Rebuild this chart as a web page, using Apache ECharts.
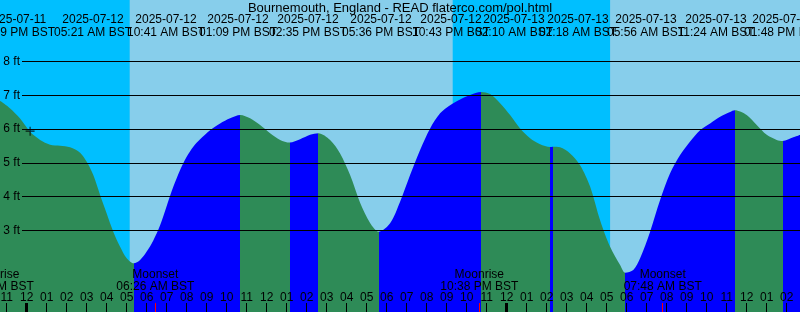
<!DOCTYPE html>
<html>
<head>
<meta charset="utf-8">
<script src="https://cdn.jsdelivr.net/npm/echarts@6/dist/echarts.min.js"></script>
<style>
html,body{margin:0;padding:0;background:#87CEEB;}
#c{width:800px;height:312px;}
</style>
</head>
<body>
<div id="c"></div>
<script>
// ---------- DATA (hours since 2025-07-12 00:00 BST) ----------
const titleText = 'Bournemouth, England - READ flaterco.com/pol.html';

const tideHours = [-1.34, -0.84, -0.34, 0.17, 0.67, 1.17, 1.67, 2.17, 2.67, 3.0, 3.33, 3.67, 4.0, 4.33, 4.67, 5.0,
  5.35, 5.67, 6.0, 6.33, 6.67, 7.0, 7.33, 7.67, 8.0, 8.33, 8.67, 9.17, 9.67, 10.17, 10.68,
  11.17, 11.67, 12.17, 12.67, 13.15, 13.67, 14.17, 14.58, 15.17, 15.67, 16.17, 16.67, 17.17, 17.6,
  18.17, 18.67, 19.17, 19.67, 20.17, 20.67, 21.17, 21.67, 22.17, 22.72, 23.17, 23.67, 24.17, 24.67,
  25.17, 25.67, 26.17, 26.3, 26.67, 27.17, 27.67, 28.17, 28.67, 29.17, 29.67, 29.93, 30.33, 30.67,
  31.17, 31.67, 32.17, 32.67, 33.17, 33.67, 34.17, 34.67, 35.17, 35.4, 36.0, 36.5, 37.0, 37.5, 37.8,
  38.33, 38.67];
const tideFeet = [6.84, 6.62, 6.32, 5.92, 5.68, 5.54, 5.51, 5.46, 5.30, 5.03, 4.64, 4.05, 3.50, 2.96, 2.51, 2.17,
  2.02, 2.12, 2.37, 2.70, 3.15, 3.72, 4.29, 4.79, 5.18, 5.48, 5.70, 5.97, 6.17, 6.32, 6.42,
  6.32, 6.12, 5.88, 5.68, 5.60, 5.70, 5.83, 5.88, 5.68, 5.28, 4.64, 3.82, 3.22, 2.96,
  3.21, 3.85, 4.64, 5.38, 6.02, 6.47, 6.71, 6.88, 7.01, 7.10, 7.04, 6.77, 6.42, 6.02,
  5.73, 5.55, 5.47, 5.48, 5.46, 5.28, 4.93, 4.30, 3.30, 2.51, 1.97, 1.74, 1.82, 2.17,
  2.96, 3.90, 4.69, 5.23, 5.63, 5.97, 6.17, 6.37, 6.51, 6.56, 6.42, 6.12, 5.83, 5.68, 5.65,
  5.76, 5.83];

// high / low tide events
const eventHours = [-1.85, 5.35, 10.68, 13.15, 14.58, 17.6, 22.72, 26.17, 26.3, 29.93, 35.4, 37.8];
const eventTypes = ['high', 'low', 'high', 'low', 'high', 'low', 'high', 'low', 'high', 'low', 'high', 'low'];
const eventDates = ['2025-07-11', '2025-07-12', '2025-07-12', '2025-07-12', '2025-07-12', '2025-07-12',
  '2025-07-12', '2025-07-13', '2025-07-13', '2025-07-13', '2025-07-13', '2025-07-13'];
const eventTimes = ['10:09 PM BST', '05:21 AM BST', '10:41 AM BST', '01:09 PM BST', '02:35 PM BST', '05:36 PM BST',
  '10:43 PM BST', '02:10 AM BST', '02:18 AM BST', '05:56 AM BST', '11:24 AM BST', '01:48 PM BST'];

// moon events
const moonHours = [-1.6, 6.43, 22.63, 31.8];
const moonNames = ['Moonrise', 'Moonset', 'Moonrise', 'Moonset'];
const moonTimes = ['10:24 PM BST', '06:26 AM BST', '10:38 PM BST', '07:48 AM BST'];

// sun
const sunsetHours = [-2.68, 21.3];
const sunriseHours = [5.15, 29.17];

// marker
const markPoint = [[0.17, 5.94]];

// axis ticks
const hourTicks = [-1, 0, 1, 2, 3, 4, 5, 6, 7, 8, 9, 10, 11, 12, 13, 14, 15, 16, 17, 18, 19, 20,
  21, 22, 23, 24, 25, 26, 27, 28, 29, 30, 31, 32, 33, 34, 35, 36, 37, 38];
const midnightTicks = [0, 24];
const feetTicks = [3, 4, 5, 6, 7, 8];

// ---------- LAYOUT ----------
const XMIN = -1.335, XMAX = 38.665, YMIN = 0.578, YMAX = 9.828;
const eventLabelX = [16, 93, 166, 238, 308, 381, 451, 514, 578, 646, 716, 783];
const FONT = '"Liberation Sans", Arial, sans-serif';
const DAY = '#87CEEB', NIGHT = '#00BFFF', FLOOD = '#0000FF', EBB = '#2E8B57';

function hourLabel(v) {
  const h = ((Math.round(v) % 24) + 24) % 24;
  const h12 = h % 12 === 0 ? 12 : h % 12;
  return String(h12).padStart(2, '0');
}

const pieces = [];
for (let i = 0; i < eventHours.length; i++) {
  const a = eventHours[i];
  const b = i + 1 < eventHours.length ? eventHours[i + 1] : 1000;
  pieces.push({ gte: a, lt: b, color: eventTypes[i] === 'low' ? FLOOD : EBB });
}
pieces.push({ gte: -1000, lt: eventHours[0], color: eventTypes[0] === 'high' ? FLOOD : EBB });

const nights = sunsetHours.map((s, i) => [{ xAxis: s }, { xAxis: sunriseHours[i] }]);

const chart = echarts.init(document.getElementById('c'), null, { renderer: 'canvas' });

const baseX = { type: 'value', min: XMIN, max: XMAX, gridIndex: 0, position: 'bottom',
  axisLine: { show: false, onZero: false }, splitLine: { show: false } };

const option = {
  animation: false,
  backgroundColor: DAY,
  grid: [
    { left: 0, right: 0, top: 0, bottom: 0, outerBoundsMode: 'none', containLabel: false },
    { left: 22, right: 0, top: 0, bottom: 0, outerBoundsMode: 'none', containLabel: false }
  ],
  xAxis: [
    Object.assign({}, baseX, {
      z: 5,
      axisTick: { show: true, inside: true, length: 9, lineStyle: { color: '#000', width: 1 }, customValues: hourTicks },
      axisLabel: { show: true, inside: true, margin: 8, color: '#000', fontSize: 12, fontFamily: FONT,
        customValues: hourTicks, formatter: hourLabel }
    }),
    Object.assign({}, baseX, {
      z: 6,
      axisTick: { show: true, inside: true, length: 9, lineStyle: { color: '#000', width: 3 }, customValues: midnightTicks },
      axisLabel: { show: false }
    }),
    Object.assign({}, baseX, {
      z: 6,
      axisTick: { show: true, inside: true, length: 9, lineStyle: { color: '#ff0000', width: 1 }, customValues: moonHours },
      axisLabel: { show: false }
    }),
    { type: 'value', min: XMIN, max: XMAX, gridIndex: 1, show: false }
  ],
  yAxis: [
    { type: 'value', min: YMIN, max: YMAX, gridIndex: 0, show: false, splitLine: { show: false } },
    { type: 'value', min: YMIN, max: YMAX, gridIndex: 1, position: 'left', z: 5,
      axisLine: { show: false },
      axisTick: { show: false, customValues: feetTicks },
      axisLabel: { show: true, margin: 2, color: '#000', fontSize: 12, fontFamily: FONT,
        customValues: feetTicks, formatter: '{value} ft' },
      splitLine: { show: true, lineStyle: { color: '#000', width: 1 } } }
  ],
  visualMap: [{
    type: 'piecewise', show: false, dimension: 0, seriesIndex: 1, pieces: pieces
  }],
  series: [
    { type: 'line', xAxisIndex: 0, yAxisIndex: 0, data: [], silent: true, z: 1,
      markArea: { silent: true, itemStyle: { color: NIGHT, opacity: 1 }, data: nights } },
    { type: 'line', xAxisIndex: 0, yAxisIndex: 0, z: 2, silent: true,
      data: tideHours.map((h, i) => [h, tideFeet[i]]),
      showSymbol: false, symbol: 'none', smooth: 0.3, sampling: null,
      lineStyle: { width: 0 },
      areaStyle: { opacity: 1, origin: 'start' } },
    { type: 'scatter', xAxisIndex: 0, yAxisIndex: 0, z: 4, silent: true,
      data: markPoint,
      symbol: 'path://M0,3.5L8,3.5L8,4.5L0,4.5ZM3.5,0L4.5,0L4.5,8L3.5,8Z', symbolSize: 9,
      itemStyle: { color: '#000' } }
  ]
};
chart.setOption(option);

// text annotations
const graphics = [];
graphics.push({ type: 'text', z: 100, x: 400, y: 8,
  style: { text: titleText, fill: '#000', font: '13px ' + FONT, align: 'center', verticalAlign: 'middle' } });
for (let i = 0; i < eventDates.length; i++) {
  graphics.push({ type: 'text', z: 100, x: eventLabelX[i], y: 19.7,
    style: { text: eventDates[i], fill: '#000', font: '12px ' + FONT, align: 'center', verticalAlign: 'middle' } });
  graphics.push({ type: 'text', z: 100, x: eventLabelX[i], y: 32.2,
    style: { text: eventTimes[i], fill: '#000', font: '12px ' + FONT, align: 'center', verticalAlign: 'middle' } });
}
for (let i = 0; i < moonHours.length; i++) {
  const px = chart.convertToPixel({ xAxisIndex: 0 }, moonHours[i]);
  graphics.push({ type: 'text', z: 100, x: px, y: 274.8,
    style: { text: moonNames[i], fill: '#000', font: '12px ' + FONT, align: 'center', verticalAlign: 'middle' } });
  graphics.push({ type: 'text', z: 100, x: px, y: 286.3,
    style: { text: moonTimes[i], fill: '#000', font: '12px ' + FONT, align: 'center', verticalAlign: 'middle' } });
}
chart.setOption({ graphic: graphics });
</script>
</body>
</html>
